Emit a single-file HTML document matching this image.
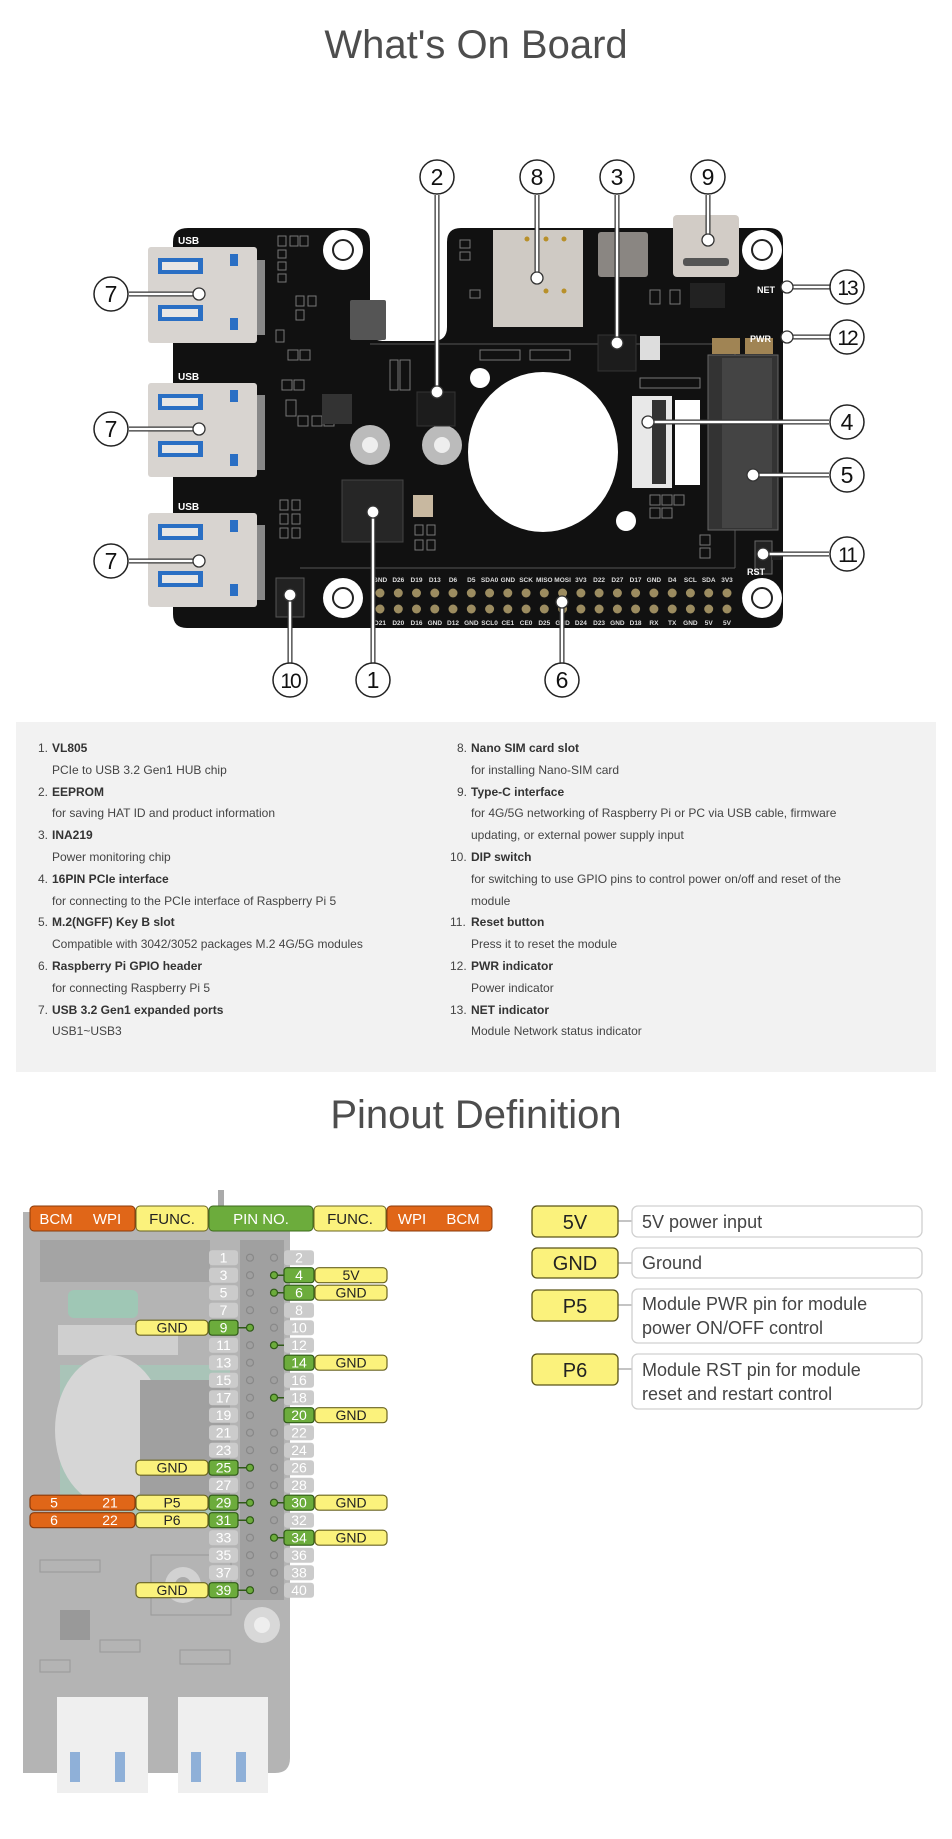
<!DOCTYPE html>
<html><head><meta charset="utf-8"><style>
html,body{margin:0;padding:0;background:#fff;}
body{width:952px;height:1839px;position:relative;overflow:hidden;font-family:"Liberation Sans",Arial,sans-serif;}
.list{position:absolute;top:722px;left:16px;width:920px;height:350px;background:#f2f2f2;}
.col{position:absolute;top:16px;font-size:12px;line-height:21.8px;color:#444;}
.col div{white-space:nowrap;}
.col .n{position:absolute;}
.col b{font-weight:bold;color:#333;}
</style></head><body>
<svg width="952" height="1839" style="position:absolute;left:0;top:0" xmlns="http://www.w3.org/2000/svg" font-family="Liberation Sans, Arial, sans-serif">
<text x="476" y="58" text-anchor="middle" font-size="40" fill="#4d4d4d">What's On Board</text>
<text x="476" y="1128" text-anchor="middle" font-size="40" fill="#4d4d4d">Pinout Definition</text>

<!-- board -->
<path d="M188 228 H356 Q370 228 370 242 V328 Q370 341 384 341 H433 Q447 341 447 327 V242 Q447 228 461 228 H769 Q783 228 783 242 V614 Q783 628 769 628 H187 Q173 628 173 614 V242 Q173 228 188 228 Z" fill="#111"/>
<line x1="370" y1="344" x2="740" y2="344" stroke="#555" stroke-width="1"/>
<line x1="300" y1="568" x2="735" y2="568" stroke="#555" stroke-width="1"/>
<line x1="735" y1="350" x2="735" y2="568" stroke="#555" stroke-width="1"/>
<!-- small components texture -->
<g fill="none" stroke="#777" stroke-width="1">
<rect x="278" y="236" width="8" height="10"/><rect x="290" y="236" width="8" height="10"/><rect x="300" y="236" width="8" height="10"/>
<rect x="278" y="250" width="8" height="8"/><rect x="278" y="262" width="8" height="8"/><rect x="278" y="274" width="8" height="8"/>
<rect x="296" y="296" width="8" height="10"/><rect x="308" y="296" width="8" height="10"/><rect x="296" y="310" width="8" height="10"/>
<rect x="276" y="330" width="8" height="12"/><rect x="288" y="350" width="10" height="10"/><rect x="300" y="350" width="10" height="10"/>
<rect x="282" y="380" width="10" height="10"/><rect x="294" y="380" width="10" height="10"/><rect x="286" y="400" width="10" height="16"/>
<rect x="298" y="416" width="10" height="10"/><rect x="312" y="416" width="10" height="10"/><rect x="324" y="416" width="10" height="10"/>
<rect x="400" y="360" width="10" height="30"/><rect x="390" y="360" width="8" height="30"/>
<rect x="280" y="500" width="8" height="10"/><rect x="292" y="500" width="8" height="10"/><rect x="280" y="514" width="8" height="10"/><rect x="292" y="514" width="8" height="10"/><rect x="280" y="528" width="8" height="10"/><rect x="292" y="528" width="8" height="10"/>
<rect x="415" y="525" width="8" height="10"/><rect x="427" y="525" width="8" height="10"/><rect x="415" y="540" width="8" height="10"/><rect x="427" y="540" width="8" height="10"/>
<rect x="460" y="240" width="10" height="8"/><rect x="460" y="252" width="10" height="8"/><rect x="470" y="290" width="10" height="8"/>
<rect x="480" y="350" width="40" height="10"/><rect x="530" y="350" width="40" height="10"/>
<rect x="650" y="290" width="10" height="14"/><rect x="670" y="290" width="10" height="14"/><rect x="700" y="290" width="10" height="14"/>
<rect x="640" y="378" width="60" height="10"/>
<rect x="650" y="495" width="10" height="10"/><rect x="662" y="495" width="10" height="10"/><rect x="650" y="508" width="10" height="10"/><rect x="662" y="508" width="10" height="10"/><rect x="674" y="495" width="10" height="10"/>
<rect x="700" y="535" width="10" height="10"/><rect x="700" y="548" width="10" height="10"/>
</g>
<rect x="690" y="283" width="35" height="25" fill="#222"/>
<rect x="640" y="336" width="20" height="24" fill="#ddd"/>
<!-- big hole -->
<ellipse cx="543" cy="452" rx="75" ry="80" fill="#fff"/>
<circle cx="480" cy="378" r="10" fill="#fff"/>
<circle cx="626" cy="521" r="10" fill="#fff"/>
<!-- mounting holes -->
<g fill="#fff"><circle cx="343" cy="250" r="20"/><circle cx="762" cy="250" r="20"/><circle cx="343" cy="598" r="20"/><circle cx="762" cy="598" r="20"/></g>
<g fill="none" stroke="#222" stroke-width="2"><circle cx="343" cy="250" r="10"/><circle cx="762" cy="250" r="10"/><circle cx="343" cy="598" r="10"/><circle cx="762" cy="598" r="10"/></g>
<!-- standoffs -->
<circle cx="370" cy="445" r="20" fill="#bbb"/><circle cx="370" cy="445" r="8" fill="#eee"/>
<circle cx="442" cy="445" r="20" fill="#bbb"/><circle cx="442" cy="445" r="8" fill="#eee"/>
<!-- USB ports -->
<g>
<rect x="148" y="247" width="109" height="96" fill="#d8d4d0" rx="3"/>
<rect x="148" y="383" width="109" height="94" fill="#d8d4d0" rx="3"/>
<rect x="148" y="513" width="109" height="94" fill="#d8d4d0" rx="3"/>
<g fill="#2a6fc4">
<rect x="158" y="258" width="45" height="16"/><rect x="158" y="305" width="45" height="16"/><rect x="230" y="254" width="8" height="12"/><rect x="230" y="318" width="8" height="12"/>
<rect x="158" y="394" width="45" height="16"/><rect x="158" y="441" width="45" height="16"/><rect x="230" y="390" width="8" height="12"/><rect x="230" y="454" width="8" height="12"/>
<rect x="158" y="524" width="45" height="16"/><rect x="158" y="571" width="45" height="16"/><rect x="230" y="520" width="8" height="12"/><rect x="230" y="584" width="8" height="12"/>
</g>
<g fill="#e8e6e4"><rect x="162" y="262" width="36" height="8"/><rect x="162" y="309" width="36" height="8"/><rect x="162" y="398" width="36" height="8"/><rect x="162" y="445" width="36" height="8"/><rect x="162" y="528" width="36" height="8"/><rect x="162" y="575" width="36" height="8"/></g>
<g fill="#888"><rect x="257" y="260" width="8" height="75"/><rect x="257" y="395" width="8" height="75"/><rect x="257" y="525" width="8" height="75"/></g>
<g fill="#fff" font-size="10" font-weight="bold"><text x="178" y="244">USB</text><text x="178" y="380">USB</text><text x="178" y="510">USB</text></g>
</g>
<!-- SIM, type-C, etc -->
<rect x="493" y="230" width="90" height="97" fill="#cfcac4"/>
<g fill="#b8902a"><circle cx="527" cy="239" r="2.5"/><circle cx="546" cy="239" r="2.5"/><circle cx="564" cy="239" r="2.5"/><circle cx="546" cy="291" r="2.5"/><circle cx="564" cy="291" r="2.5"/></g>
<rect x="598" y="232" width="50" height="45" fill="#8a8682" rx="3"/>
<rect x="673" y="215" width="66" height="62" fill="#d2ccc6" rx="4"/>
<rect x="683" y="258" width="46" height="8" fill="#555" rx="3"/>
<rect x="350" y="300" width="36" height="40" fill="#555" rx="2"/>
<rect x="322" y="394" width="30" height="30" fill="#333"/>
<rect x="342" y="480" width="61" height="62" fill="#262626" stroke="#444"/>
<rect x="417" y="392" width="38" height="34" fill="#1c1c1c" stroke="#333"/>
<rect x="598" y="335" width="38" height="36" fill="#1c1c1c" stroke="#333"/>
<rect x="632" y="396" width="40" height="92" fill="#e8e8e8"/>
<rect x="652" y="400" width="14" height="84" fill="#333"/>
<rect x="675" y="400" width="25" height="85" fill="#fff"/>
<rect x="708" y="355" width="70" height="175" fill="#333" stroke="#666"/>
<rect x="722" y="358" width="50" height="170" fill="#444"/>
<rect x="712" y="338" width="28" height="16" fill="#a08454"/><rect x="745" y="338" width="28" height="16" fill="#a08454"/>
<rect x="755" y="541" width="17" height="33" fill="#222" stroke="#666"/>
<rect x="772" y="552" width="10" height="8" fill="#222"/>
<rect x="276" y="578" width="28" height="39" fill="#222" stroke="#555"/>
<rect x="413" y="495" width="20" height="22" fill="#c8b8a0"/>
<g fill="#fff" font-size="9" font-weight="bold"><text x="757" y="293">NET</text><text x="750" y="342">PWR</text><text x="747" y="575">RST</text></g>
<!-- GPIO header -->
<g fill="#9c8c60">
<circle cx="380" cy="593" r="4.5"/><circle cx="398.3" cy="593" r="4.5"/><circle cx="416.5" cy="593" r="4.5"/><circle cx="434.8" cy="593" r="4.5"/><circle cx="453" cy="593" r="4.5"/><circle cx="471.3" cy="593" r="4.5"/><circle cx="489.6" cy="593" r="4.5"/><circle cx="507.8" cy="593" r="4.5"/><circle cx="526.1" cy="593" r="4.5"/><circle cx="544.3" cy="593" r="4.5"/><circle cx="562.6" cy="593" r="4.5"/><circle cx="580.9" cy="593" r="4.5"/><circle cx="599.1" cy="593" r="4.5"/><circle cx="617.4" cy="593" r="4.5"/><circle cx="635.6" cy="593" r="4.5"/><circle cx="653.9" cy="593" r="4.5"/><circle cx="672.2" cy="593" r="4.5"/><circle cx="690.4" cy="593" r="4.5"/><circle cx="708.7" cy="593" r="4.5"/><circle cx="727" cy="593" r="4.5"/>
<circle cx="380" cy="609" r="4.5"/><circle cx="398.3" cy="609" r="4.5"/><circle cx="416.5" cy="609" r="4.5"/><circle cx="434.8" cy="609" r="4.5"/><circle cx="453" cy="609" r="4.5"/><circle cx="471.3" cy="609" r="4.5"/><circle cx="489.6" cy="609" r="4.5"/><circle cx="507.8" cy="609" r="4.5"/><circle cx="526.1" cy="609" r="4.5"/><circle cx="544.3" cy="609" r="4.5"/><circle cx="562.6" cy="609" r="4.5"/><circle cx="580.9" cy="609" r="4.5"/><circle cx="599.1" cy="609" r="4.5"/><circle cx="617.4" cy="609" r="4.5"/><circle cx="635.6" cy="609" r="4.5"/><circle cx="653.9" cy="609" r="4.5"/><circle cx="672.2" cy="609" r="4.5"/><circle cx="690.4" cy="609" r="4.5"/><circle cx="708.7" cy="609" r="4.5"/><circle cx="727" cy="609" r="4.5"/>
</g>
<g fill="#ddd" font-size="6.5" font-weight="bold" text-anchor="middle">
<text x="380" y="582">GND</text><text x="398.3" y="582">D26</text><text x="416.5" y="582">D19</text><text x="434.8" y="582">D13</text><text x="453" y="582">D6</text><text x="471.3" y="582">D5</text><text x="489.6" y="582">SDA0</text><text x="507.8" y="582">GND</text><text x="526.1" y="582">SCK</text><text x="544.3" y="582">MISO</text><text x="562.6" y="582">MOSI</text><text x="580.9" y="582">3V3</text><text x="599.1" y="582">D22</text><text x="617.4" y="582">D27</text><text x="635.6" y="582">D17</text><text x="653.9" y="582">GND</text><text x="672.2" y="582">D4</text><text x="690.4" y="582">SCL</text><text x="708.7" y="582">SDA</text><text x="727" y="582">3V3</text>
<text x="380" y="625">D21</text><text x="398.3" y="625">D20</text><text x="416.5" y="625">D16</text><text x="434.8" y="625">GND</text><text x="453" y="625">D12</text><text x="471.3" y="625">GND</text><text x="489.6" y="625">SCL0</text><text x="507.8" y="625">CE1</text><text x="526.1" y="625">CE0</text><text x="544.3" y="625">D25</text><text x="562.6" y="625">GND</text><text x="580.9" y="625">D24</text><text x="599.1" y="625">D23</text><text x="617.4" y="625">GND</text><text x="635.6" y="625">D18</text><text x="653.9" y="625">RX</text><text x="672.2" y="625">TX</text><text x="690.4" y="625">GND</text><text x="708.7" y="625">5V</text><text x="727" y="625">5V</text>
</g>
<!-- leaders -->
<g stroke="#333" stroke-width="5" fill="none">
<path d="M437 195 V392"/><path d="M537 195 V278"/><path d="M617 195 V343"/><path d="M708 195 V240"/>
<path d="M129 294 H199"/><path d="M129 429 H199"/><path d="M129 561 H199"/>
<path d="M830 287 H787"/><path d="M830 337 H787"/><path d="M829 422 H648"/><path d="M829 475 H753"/><path d="M829 554 H763"/>
<path d="M290 663 V595"/><path d="M373 663 V512"/><path d="M562 663 V602"/>
</g>
<g stroke="#fff" stroke-width="2.5" fill="none">
<path d="M437 195 V392"/><path d="M537 195 V278"/><path d="M617 195 V343"/><path d="M708 195 V240"/>
<path d="M129 294 H199"/><path d="M129 429 H199"/><path d="M129 561 H199"/>
<path d="M830 287 H787"/><path d="M830 337 H787"/><path d="M829 422 H648"/><path d="M829 475 H753"/><path d="M829 554 H763"/>
<path d="M290 663 V595"/><path d="M373 663 V512"/><path d="M562 663 V602"/>
</g>
<g fill="#fff" stroke="#333" stroke-width="1.3">
<circle cx="437" cy="392" r="6"/><circle cx="537" cy="278" r="6"/><circle cx="617" cy="343" r="6"/><circle cx="708" cy="240" r="6"/>
<circle cx="199" cy="294" r="6"/><circle cx="199" cy="429" r="6"/><circle cx="199" cy="561" r="6"/>
<circle cx="787" cy="287" r="6"/><circle cx="787" cy="337" r="6"/><circle cx="648" cy="422" r="6"/><circle cx="753" cy="475" r="6"/><circle cx="763" cy="554" r="6"/>
<circle cx="290" cy="595" r="6"/><circle cx="373" cy="512" r="6"/><circle cx="562" cy="602" r="6"/>
</g>
<g fill="#fff" stroke="#222" stroke-width="1.5">
<circle cx="437" cy="177" r="17"/><circle cx="537" cy="177" r="17"/><circle cx="617" cy="177" r="17"/><circle cx="708" cy="177" r="17"/>
<circle cx="111" cy="294" r="17"/><circle cx="111" cy="429" r="17"/><circle cx="111" cy="561" r="17"/>
<circle cx="847" cy="287" r="17"/><circle cx="847" cy="337" r="17"/><circle cx="847" cy="422" r="17"/><circle cx="847" cy="475" r="17"/><circle cx="847" cy="554" r="17"/>
<circle cx="290" cy="680" r="17"/><circle cx="373" cy="680" r="17"/><circle cx="562" cy="680" r="17"/>
</g>
<g fill="#111" font-size="23" text-anchor="middle">
<text x="437" y="185">2</text><text x="537" y="185">8</text><text x="617" y="185">3</text><text x="708" y="185">9</text>
<text x="111" y="302">7</text><text x="111" y="437">7</text><text x="111" y="569">7</text>
<text x="847" y="295" font-size="21" letter-spacing="-2">13</text><text x="847" y="345" font-size="21" letter-spacing="-2">12</text><text x="847" y="430">4</text><text x="847" y="483">5</text><text x="847" y="562" font-size="21" letter-spacing="-2">11</text>
<text x="290" y="688" font-size="21" letter-spacing="-2">10</text><text x="373" y="688">1</text><text x="562" y="688">6</text>
</g>

<!-- PINOUT -->
<path d="M23 1212 H290 V1758 Q290 1773 275 1773 H23 Z" fill="#b4b4b4"/>
<rect x="218" y="1190" width="6" height="22" fill="#aaa"/>
<rect x="40" y="1240" width="170" height="42" fill="#a4a4a4"/>
<rect x="68" y="1290" width="70" height="28" fill="#9fc7b5" rx="6"/>
<rect x="58" y="1325" width="120" height="30" fill="#cfcfcf"/>
<rect x="60" y="1365" width="170" height="150" fill="#a9c4b8"/>
<ellipse cx="110" cy="1430" rx="55" ry="75" fill="#d6d6d6"/>
<rect x="140" y="1380" width="90" height="130" fill="#a0a0a0"/>
<circle cx="183" cy="1585" r="18" fill="#d2d2d2"/><circle cx="183" cy="1585" r="8" fill="#aaa"/>
<circle cx="262" cy="1625" r="18" fill="#d8d8d8"/><circle cx="262" cy="1625" r="8" fill="#eee"/>
<rect x="60" y="1610" width="30" height="30" fill="#999"/>
<rect x="151" y="1555" width="80" height="60" fill="none" stroke="#999"/>
<g fill="none" stroke="#999"><rect x="40" y="1560" width="60" height="12"/><rect x="100" y="1640" width="40" height="12"/><rect x="180" y="1650" width="50" height="14"/><rect x="40" y="1660" width="30" height="12"/></g>
<rect x="57" y="1697" width="91" height="96" fill="#efefef"/>
<rect x="178" y="1697" width="90" height="96" fill="#efefef"/>
<g fill="#8fb0d8"><rect x="70" y="1752" width="10" height="30"/><rect x="115" y="1752" width="10" height="30"/><rect x="191" y="1752" width="10" height="30"/><rect x="236" y="1752" width="10" height="30"/></g>
<rect x="240" y="1240" width="44" height="360" fill="#a0a0a0"/>

<!-- header -->
<g font-size="15" text-anchor="middle">
<rect x="30" y="1206" width="105" height="25" rx="4" fill="#e06618" stroke="#8a3a0a"/>
<text x="56" y="1224" fill="#fff">BCM</text><text x="107" y="1224" fill="#fff">WPI</text>
<rect x="136" y="1206" width="72" height="25" rx="4" fill="#fbf27c" stroke="#6a6420"/>
<text x="172" y="1224" fill="#222">FUNC.</text>
<rect x="209" y="1206" width="104" height="25" rx="4" fill="#6cac3c" stroke="#3c6a1c"/>
<text x="261" y="1224" fill="#fff">PIN NO.</text>
<rect x="314" y="1206" width="72" height="25" rx="4" fill="#fbf27c" stroke="#6a6420"/>
<text x="350" y="1224" fill="#222">FUNC.</text>
<rect x="387" y="1206" width="105" height="25" rx="4" fill="#e06618" stroke="#8a3a0a"/>
<text x="412" y="1224" fill="#fff">WPI</text><text x="463" y="1224" fill="#fff">BCM</text>
</g>

<!-- pin boxes -->
<g fill="#cbcbcb">
<rect x="209" y="1250.2" width="29" height="15" rx="3"/><rect x="209" y="1267.7" width="29" height="15" rx="3"/><rect x="209" y="1285.2" width="29" height="15" rx="3"/><rect x="209" y="1302.7" width="29" height="15" rx="3"/><rect x="209" y="1337.7" width="29" height="15" rx="3"/><rect x="209" y="1355.2" width="29" height="15" rx="3"/><rect x="209" y="1372.7" width="29" height="15" rx="3"/><rect x="209" y="1390.2" width="29" height="15" rx="3"/><rect x="209" y="1407.7" width="29" height="15" rx="3"/><rect x="209" y="1425.2" width="29" height="15" rx="3"/><rect x="209" y="1442.7" width="29" height="15" rx="3"/><rect x="209" y="1477.7" width="29" height="15" rx="3"/><rect x="209" y="1530.2" width="29" height="15" rx="3"/><rect x="209" y="1547.7" width="29" height="15" rx="3"/><rect x="209" y="1565.2" width="29" height="15" rx="3"/>
<rect x="284" y="1250.2" width="30" height="15" rx="3"/><rect x="284" y="1302.7" width="30" height="15" rx="3"/><rect x="284" y="1320.2" width="30" height="15" rx="3"/><rect x="284" y="1337.7" width="30" height="15" rx="3"/><rect x="284" y="1372.7" width="30" height="15" rx="3"/><rect x="284" y="1390.2" width="30" height="15" rx="3"/><rect x="284" y="1425.2" width="30" height="15" rx="3"/><rect x="284" y="1442.7" width="30" height="15" rx="3"/><rect x="284" y="1460.2" width="30" height="15" rx="3"/><rect x="284" y="1477.7" width="30" height="15" rx="3"/><rect x="284" y="1512.7" width="30" height="15" rx="3"/><rect x="284" y="1547.7" width="30" height="15" rx="3"/><rect x="284" y="1565.2" width="30" height="15" rx="3"/><rect x="284" y="1582.7" width="30" height="15" rx="3"/>
</g>
<!-- pin dots -->
<g fill="none" stroke="#888" stroke-width="1.2">
<circle cx="250" cy="1257.7" r="3.5"/><circle cx="250" cy="1275.2" r="3.5"/><circle cx="250" cy="1292.7" r="3.5"/><circle cx="250" cy="1310.2" r="3.5"/><circle cx="250" cy="1345.2" r="3.5"/><circle cx="250" cy="1362.7" r="3.5"/><circle cx="250" cy="1380.2" r="3.5"/><circle cx="250" cy="1397.7" r="3.5"/><circle cx="250" cy="1415.2" r="3.5"/><circle cx="250" cy="1432.7" r="3.5"/><circle cx="250" cy="1450.2" r="3.5"/><circle cx="250" cy="1485.2" r="3.5"/><circle cx="250" cy="1537.7" r="3.5"/><circle cx="250" cy="1555.2" r="3.5"/><circle cx="250" cy="1572.7" r="3.5"/>
<circle cx="274" cy="1257.7" r="3.5"/><circle cx="274" cy="1310.2" r="3.5"/><circle cx="274" cy="1327.7" r="3.5"/><circle cx="274" cy="1345.2" r="3.5"/><circle cx="274" cy="1380.2" r="3.5"/><circle cx="274" cy="1397.7" r="3.5"/><circle cx="274" cy="1432.7" r="3.5"/><circle cx="274" cy="1450.2" r="3.5"/><circle cx="274" cy="1467.7" r="3.5"/><circle cx="274" cy="1485.2" r="3.5"/><circle cx="274" cy="1520.2" r="3.5"/><circle cx="274" cy="1555.2" r="3.5"/><circle cx="274" cy="1572.7" r="3.5"/><circle cx="274" cy="1590.2" r="3.5"/>
</g>
<!-- highlighted green -->
<g stroke="#2f5a17" stroke-width="1.5">
<path d="M238 1327.7 H250 M238 1467.7 H250 M238 1502.7 H250 M238 1520.2 H250 M238 1590.2 H250 M284 1275.2 H274 M284 1292.7 H274 M284 1345.2 H274 M284 1397.7 H274 M284 1502.7 H274 M284 1537.7 H274"/>
</g>
<g fill="#6cac3c" stroke="#2f5a17" stroke-width="1.2">
<rect x="209" y="1320.2" width="29" height="15" rx="3"/><rect x="209" y="1460.2" width="29" height="15" rx="3"/><rect x="209" y="1495.2" width="29" height="15" rx="3"/><rect x="209" y="1512.7" width="29" height="15" rx="3"/><rect x="209" y="1582.7" width="29" height="15" rx="3"/>
<rect x="284" y="1267.7" width="30" height="15" rx="3"/><rect x="284" y="1285.2" width="30" height="15" rx="3"/><rect x="284" y="1355.2" width="30" height="15" rx="3"/><rect x="284" y="1407.7" width="30" height="15" rx="3"/><rect x="284" y="1495.2" width="30" height="15" rx="3"/><rect x="284" y="1530.2" width="30" height="15" rx="3"/>
<circle cx="250" cy="1327.7" r="3.5"/><circle cx="250" cy="1467.7" r="3.5"/><circle cx="250" cy="1502.7" r="3.5"/><circle cx="250" cy="1520.2" r="3.5"/><circle cx="250" cy="1590.2" r="3.5"/>
<circle cx="274" cy="1275.2" r="3.5"/><circle cx="274" cy="1292.7" r="3.5"/><circle cx="274" cy="1345.2" r="3.5"/><circle cx="274" cy="1397.7" r="3.5"/><circle cx="274" cy="1502.7" r="3.5"/><circle cx="274" cy="1537.7" r="3.5"/>
</g>
<!-- func labels -->
<g fill="#fbf27c" stroke="#6a6420" stroke-width="1.2">
<rect x="136" y="1320.2" width="72" height="15" rx="4"/><rect x="136" y="1460.2" width="72" height="15" rx="4"/><rect x="136" y="1495.2" width="72" height="15" rx="4"/><rect x="136" y="1512.7" width="72" height="15" rx="4"/><rect x="136" y="1582.7" width="72" height="15" rx="4"/>
<rect x="315" y="1267.7" width="72" height="15" rx="4"/><rect x="315" y="1285.2" width="72" height="15" rx="4"/><rect x="315" y="1355.2" width="72" height="15" rx="4"/><rect x="315" y="1407.7" width="72" height="15" rx="4"/><rect x="315" y="1495.2" width="72" height="15" rx="4"/><rect x="315" y="1530.2" width="72" height="15" rx="4"/>
</g>
<g fill="#e06618" stroke="#8a3a0a" stroke-width="1.2">
<rect x="30" y="1495.2" width="105" height="15" rx="4"/><rect x="30" y="1512.7" width="105" height="15" rx="4"/>
</g>
<g font-size="14" text-anchor="middle" fill="#222">
<text x="172" y="1332.7">GND</text><text x="172" y="1472.7">GND</text><text x="172" y="1507.7">P5</text><text x="172" y="1525.2">P6</text><text x="172" y="1595.2">GND</text>
<text x="351" y="1280.2">5V</text><text x="351" y="1297.7">GND</text><text x="351" y="1367.7">GND</text><text x="351" y="1420.2">GND</text><text x="351" y="1507.7">GND</text><text x="351" y="1542.7">GND</text>
</g>
<g font-size="14" text-anchor="middle" fill="#fff">
<text x="54" y="1507.7">5</text><text x="110" y="1507.7">21</text><text x="54" y="1525.2">6</text><text x="110" y="1525.2">22</text>
</g>
<g font-size="14" text-anchor="middle" fill="#fff">
<text x="223.5" y="1262.7">1</text><text x="223.5" y="1280.2">3</text><text x="223.5" y="1297.7">5</text><text x="223.5" y="1315.2">7</text><text x="223.5" y="1332.7">9</text><text x="223.5" y="1350.2">11</text><text x="223.5" y="1367.7">13</text><text x="223.5" y="1385.2">15</text><text x="223.5" y="1402.7">17</text><text x="223.5" y="1420.2">19</text><text x="223.5" y="1437.7">21</text><text x="223.5" y="1455.2">23</text><text x="223.5" y="1472.7">25</text><text x="223.5" y="1490.2">27</text><text x="223.5" y="1507.7">29</text><text x="223.5" y="1525.2">31</text><text x="223.5" y="1542.7">33</text><text x="223.5" y="1560.2">35</text><text x="223.5" y="1577.7">37</text><text x="223.5" y="1595.2">39</text>
<text x="299" y="1262.7">2</text><text x="299" y="1280.2">4</text><text x="299" y="1297.7">6</text><text x="299" y="1315.2">8</text><text x="299" y="1332.7">10</text><text x="299" y="1350.2">12</text><text x="299" y="1367.7">14</text><text x="299" y="1385.2">16</text><text x="299" y="1402.7">18</text><text x="299" y="1420.2">20</text><text x="299" y="1437.7">22</text><text x="299" y="1455.2">24</text><text x="299" y="1472.7">26</text><text x="299" y="1490.2">28</text><text x="299" y="1507.7">30</text><text x="299" y="1525.2">32</text><text x="299" y="1542.7">34</text><text x="299" y="1560.2">36</text><text x="299" y="1577.7">38</text><text x="299" y="1595.2">40</text>
</g>

<!-- legend -->
<g stroke="#888" stroke-width="1"><path d="M618 1221 H632 M618 1263 H632 M618 1305 H632 M618 1369 H632"/></g>
<g fill="#fbf27c" stroke="#5a5418" stroke-width="1.3">
<rect x="532" y="1206" width="86" height="31" rx="5"/><rect x="532" y="1248" width="86" height="30" rx="5"/><rect x="532" y="1290" width="86" height="31" rx="5"/><rect x="532" y="1354" width="86" height="31" rx="5"/>
</g>
<g fill="#fff" stroke="#d0d0d0" stroke-width="1.3">
<rect x="632" y="1206" width="290" height="31" rx="6"/><rect x="632" y="1248" width="290" height="30" rx="6"/><rect x="632" y="1289" width="290" height="54" rx="6"/><rect x="632" y="1354" width="290" height="55" rx="6"/>
</g>
<g font-size="20" text-anchor="middle" fill="#222">
<text x="575" y="1229">5V</text><text x="575" y="1270">GND</text><text x="575" y="1313">P5</text><text x="575" y="1377">P6</text>
</g>
<g font-size="18" fill="#444">
<text x="642" y="1228">5V power input</text><text x="642" y="1269">Ground</text>
<text x="642" y="1310">Module PWR pin for module</text><text x="642" y="1334">power ON/OFF control</text>
<text x="642" y="1376">Module RST pin for module</text><text x="642" y="1400">reset and restart control</text>
</g>
</svg>

<div class="list">
<div class="col" style="left:36px;">
<div><span class="n" style="left:-14px">1.</span><b>VL805</b></div>
<div>PCIe to USB 3.2 Gen1 HUB chip</div>
<div><span class="n" style="left:-14px">2.</span><b>EEPROM</b></div>
<div>for saving HAT ID and product information</div>
<div><span class="n" style="left:-14px">3.</span><b>INA219</b></div>
<div>Power monitoring chip</div>
<div><span class="n" style="left:-14px">4.</span><b>16PIN PCIe interface</b></div>
<div>for connecting to the PCIe interface of Raspberry Pi 5</div>
<div><span class="n" style="left:-14px">5.</span><b>M.2(NGFF) Key B slot</b></div>
<div>Compatible with 3042/3052 packages M.2 4G/5G modules</div>
<div><span class="n" style="left:-14px">6.</span><b>Raspberry Pi GPIO header</b></div>
<div>for connecting Raspberry Pi 5</div>
<div><span class="n" style="left:-14px">7.</span><b>USB 3.2 Gen1 expanded ports</b></div>
<div>USB1~USB3</div>
</div>
<div class="col" style="left:455px;">
<div><span class="n" style="left:-14px">8.</span><b>Nano SIM card slot</b></div>
<div>for installing Nano-SIM card</div>
<div><span class="n" style="left:-14px">9.</span><b>Type-C interface</b></div>
<div>for 4G/5G networking of Raspberry Pi or PC via USB cable, firmware</div>
<div>updating, or external power supply input</div>
<div><span class="n" style="left:-21px">10.</span><b>DIP switch</b></div>
<div>for switching to use GPIO pins to control power on/off and reset of the</div>
<div>module</div>
<div><span class="n" style="left:-21px">11.</span><b>Reset button</b></div>
<div>Press it to reset the module</div>
<div><span class="n" style="left:-21px">12.</span><b>PWR indicator</b></div>
<div>Power indicator</div>
<div><span class="n" style="left:-21px">13.</span><b>NET indicator</b></div>
<div>Module Network status indicator</div>
</div>
</div>
</body></html>
